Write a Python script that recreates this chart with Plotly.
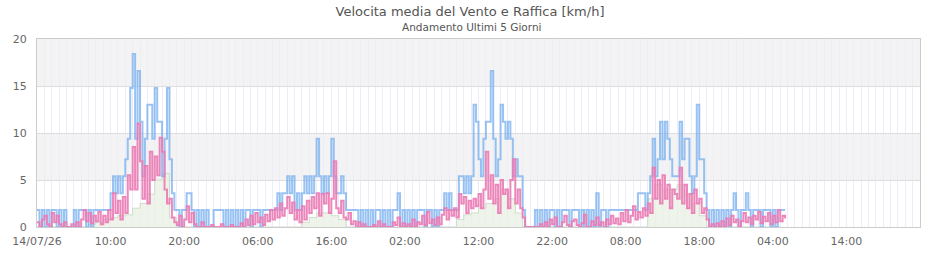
import numpy as np
import pandas as pd
import plotly.graph_objects as go

START = "2026-07-14 00:00"

# Raffica (gust) km/h, 20-minute samples
gust = [
    1.8,0,1.8, 0,1.8,0, 1.8,1.8,0, 1.8,0,1.8, 0,0,0,
    1.8,0,1.8, 1.8,1.8,0, 1.8,0,1.8, 1.8,1.8,1.8, 1.8,1.8,1.8,
    3.6,5.4,3.6, 5.4,3.6,5.4, 7.2,9.4,14.8, 18.4,9.4,16.6, 11.2,5.4,9.4,
    13.0,13.0,9.4, 14.8,11.2,11.2, 5.4,9.4,14.8, 7.2,3.6,1.8, 1.8,0,1.8,
    1.8,3.6,3.6, 1.8,0,1.8, 0,1.8,0, 1.8,0,0, 1.8,1.8,1.8,
    1.8,0,1.8, 0,1.8,0, 1.8,0,1.8, 0,1.8,1.8, 0,1.8,1.8,
    1.8,0,1.8, 1.8,1.8,1.8, 1.8,1.8,3.6, 1.8,3.6,3.6, 5.4,3.6,5.4,
    1.8,3.6,1.8, 3.6,5.4,3.6, 5.4,3.6,5.4, 9.4,5.4,3.6, 5.4,3.6,5.4,
    9.4,5.4,3.6, 3.6,5.4,3.6, 1.8,1.8,1.8, 1.8,1.8,0, 1.8,0,1.8,
    0,1.8,0, 1.8,1.8,0, 1.8,0,1.8, 0,1.8,1.8, 3.6,0,1.8,
    0,1.8,0, 1.8,0,1.8, 1.8,1.8,0, 1.8,1.8,0, 1.8,0,1.8,
    1.8,3.6,1.8, 3.6,1.8,1.8, 1.8,5.4,5.4, 3.6,5.4,3.6, 5.4,13.0,11.2,
    7.2,5.4,9.4, 11.2,11.2,16.6, 9.4,5.4,7.2, 13.0,11.2,9.4, 11.2,9.4,5.4,
    7.2,5.4,5.4, 1.8,0,0, 0,0,1.8, 0,1.8,0, 1.8,0,1.8,
    1.8,0,1.8, 0,1.8,1.8, 1.8,0,1.8, 1.8,1.8,0, 1.8,0,1.8,
    0,1.8,0, 3.6,0,1.8, 1.8,0,1.8, 1.8,1.8,1.8, 1.8,1.8,1.8,
    1.8,1.8,1.8, 1.8,1.8,3.6, 3.6,3.6,1.8, 3.6,5.4,9.4, 5.4,7.2,11.2,
    7.2,11.2,9.4, 7.2,5.4,5.4, 5.4,11.2,7.2, 9.4,9.4,5.4, 3.6,5.4,13.0,
    7.2,7.2,3.6, 1.8,0,1.8, 0,1.8,0, 1.8,0,1.8, 0,1.8,3.6,
    1.8,0,1.8, 1.8,3.6,1.8, 0,1.8,1.8, 1.8,0,1.8, 1.8,1.8,0,
    1.8,0,1.8, 1.8,1.8,1.8,
]

# Velocita media (average speed) km/h, 20-minute samples
media = [
    0.5,0,0.8, 1.2,0.3,0, 1.5,0.5,1.2, 0.3,0,0.5, 0,0,0.3,
    0,0.5,0, 0.8,1.8,0.6, 1.5,0.4,1.2, 0.6,1.6,0.3, 1.2,0.5,1.8,
    0.8,3.6,1.5, 2.8,0.8,3.2, 1.5,5.5,4.0, 8.5,4.0,11.0, 7.0,3.0,6.5,
    2.5,8.0,5.0, 7.5,5.5,9.5, 8.0,4.0,2.5, 3.0,1.0,0.5, 0.2,1.2,0,
    0.8,2.2,0.5, 1.5,0.3,0, 0,0.5,0, 0,0,0.2, 0,0,0,
    0.3,0,0, 0,0.2,0, 0,0,0.4, 0,0.8,0.2, 1.2,0.3,1.5,
    0.5,1.0,0.2, 1.3,0.6,1.8, 0.8,2.0,1.0, 2.5,1.2,2.0, 3.2,1.5,2.6,
    0.8,1.8,0.5, 2.2,0.8,2.8, 1.5,3.2,2.0, 3.6,1.2,3.5, 2.5,3.6,1.5,
    3.0,7.0,2.0, 1.5,2.8,1.0, 0.8,1.5,0.3, 0.6,0,0.5, 0,0.3,0,
    0,0,0.2, 0,0.6,0, 0.3,0,0, 0,0.5,0.2, 1.0,0,0.4,
    0,0.3,0, 0.8,0,0.5, 0.3,1.2,0.2, 1.6,0.4,0.8, 0.2,1.0,0.3,
    1.3,2.0,0.8, 1.8,1.2,2.0, 1.0,3.5,2.5, 3.2,1.5,2.8, 2.0,3.0,2.2,
    3.5,2.0,4.0, 8.0,3.0,5.5, 2.5,4.5,1.5, 5.0,3.5,4.0, 2.0,5.0,7.2,
    2.5,4.0,2.0, 1.0,0,0, 0,0,0, 0,0.3,0, 0.5,0,0.8,
    0.3,1.0,0, 0,0.5,1.2, 0.2,0,0.6, 0.8,0.2,0, 0.4,1.3,0,
    0,0.6,0.2, 1.0,0.2,0.5, 0,0.8,0.3, 1.2,0.4,0.9, 0.3,1.5,0.6,
    1.8,0.5,1.2, 2.2,0.8,1.6, 1.0,2.0,1.2, 2.5,1.5,6.3, 3.0,5.0,2.5,
    5.5,3.0,4.5, 2.0,4.0,3.5, 3.0,6.3,2.5, 4.5,2.0,3.5, 1.5,4.0,2.5,
    3.0,1.5,2.0, 0.8,0,0.3, 0,0.4,0, 0.6,0,0.9, 0.2,1.2,0.5,
    0.8,0,0.6, 1.5,0.5,1.0, 0.3,1.2,0.8, 1.6,0.4,1.1, 0.6,1.5,0.3,
    1.2,0.5,1.8, 0.6,1.2,0.9,
]

# Third (light green area) series, hourly samples
base = [
    0,0,0,0,0,0,0, 0.3,0.5,0.8,1.0,1.2,1.3,2.0,2.5,3.5,5.0,5.7,1.0,0,
    0,0,0,0,0,0,0,0,0,0,0,0,0,0,0,0,
    0.5,1.0,1.5,1.5,1.2,0.8,0,
    0,0,0,0,0,0,0,0,0,0,0,0,0,0,
    0.8,1.3,1.5,2.0,2.5,3.0,4.0,3.0,1.5,0,
    0,0,0,0,0,0,0,0,0,0,0,0,0,0,0,0,
    3.0,4.5,4.0,4.0,4.5,3.5,2.5,1.2,0,
    0,0,0,0,0,0,0,0,0,0,
]

y_ticks = [0, 5, 10, 15, 20]
x_tick_hours = [0, 10, 20, 30, 40, 50, 60, 70, 80, 90, 100, 110]
x_tick_labels = ["14/07/26", "10:00", "20:00", "06:00", "16:00", "02:00",
                 "12:00", "22:00", "08:00", "18:00", "04:00", "14:00"]
bands = [(15, 20, "#f3f3f3"), (5, 10, "#f3f3f3")]

t0 = pd.Timestamp(START)
t20 = t0 + pd.to_timedelta(np.arange(len(gust)) * 20, unit="min")
t60 = t0 + pd.to_timedelta(np.arange(len(base)) * 60, unit="min")
tickvals = [t0 + pd.Timedelta(hours=h) for h in x_tick_hours]

fig = go.Figure()
fig.add_trace(go.Scatter(x=t60, y=base, mode="lines", line_shape="hv",
                         line=dict(color="rgba(205,218,200,0.9)", width=1),
                         fill="tozeroy", fillcolor="rgba(232,240,227,0.75)",
                         showlegend=False, hoverinfo="skip"))
fig.add_trace(go.Scatter(x=t20, y=gust, mode="lines", line_shape="hv",
                         line=dict(color="rgba(110,170,238,0.7)", width=2),
                         showlegend=False))
fig.add_trace(go.Scatter(x=t20, y=media, mode="lines", line_shape="hv",
                         line=dict(color="rgba(234,122,180,0.9)", width=2),
                         showlegend=False))

for y0, y1, c in bands:
    fig.add_shape(type="rect", xref="paper", x0=0, x1=1, yref="y", y0=y0, y1=y1,
                  fillcolor=c, line_width=0, layer="below")

fig.update_layout(
    width=940, height=260,
    margin=dict(l=35, r=20, t=39, b=31),
    paper_bgcolor="white", plot_bgcolor="white",
    font=dict(family="DejaVu Sans", color="#666666", size=11),
    title=dict(text="Velocita media del Vento e Raffica [km/h]",
               x=0.5, xanchor="center", y=1 - 11 / 260, yanchor="middle",
               font=dict(size=13, color="#555555")),
    annotations=[dict(text="Andamento Ultimi 5 Giorni", xref="paper", yref="paper",
                      x=(470 - 35) / 885, y=(229 - 27) / 190, xanchor="center",
                      yanchor="middle", showarrow=False,
                      font=dict(size=10.5, color="#555555"))],
)
fig.update_xaxes(
    type="date",
    range=[t0, t0 + pd.Timedelta(hours=120)],
    tickmode="array", tickvals=tickvals, ticktext=x_tick_labels,
    showgrid=True, gridcolor="#ededfa", gridwidth=1,
    minor=dict(dtick=3600000, showgrid=True, gridcolor="#ededfa", gridwidth=1),
    showline=True, linecolor="#cccccc", linewidth=1, mirror=True,
    ticks="", zeroline=False, tickfont=dict(size=11, color="#666666"),
    ticklabelstandoff=4,
)
fig.update_yaxes(
    range=[0, 20], tickmode="array", tickvals=y_ticks,
    showgrid=True, gridcolor="#dedede", gridwidth=1,
    showline=True, linecolor="#cccccc", linewidth=1, mirror=True,
    ticks="", zeroline=False, tickfont=dict(size=11, color="#666666"),
    ticklabelstandoff=7,
)

fig.write_html("out.html")
